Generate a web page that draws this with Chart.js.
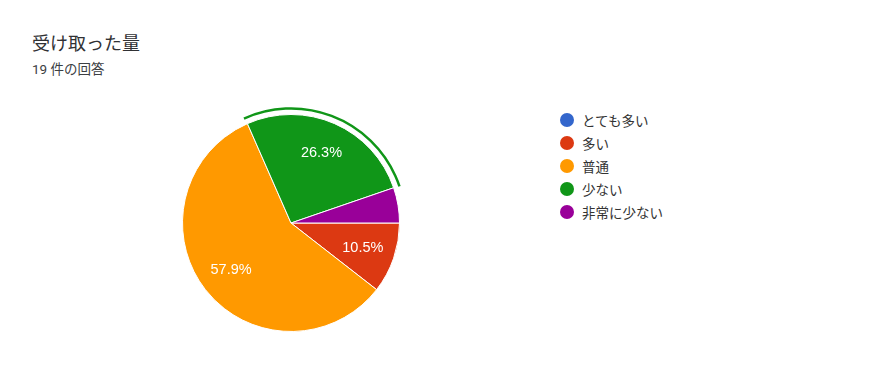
<!DOCTYPE html>
<html>
<head>
<meta charset="utf-8">
<script src="https://cdn.jsdelivr.net/npm/chart.js@4"></script>
<style>
body{margin:0;background:#fff;width:886px;height:373px;position:relative;overflow:hidden;font-family:Roboto,"Noto Sans CJK JP",sans-serif}
#title{position:absolute;left:32px;top:29px;font-size:18px;color:#303134;font-family:Roboto,"Noto Sans CJK JP"}
#sub{position:absolute;left:32px;top:58px;font-size:13.5px;color:#3c4043;font-family:Roboto,"Noto Sans CJK JP"}
#box{position:absolute;left:171px;top:103px;width:240px;height:240px}
#legend{position:absolute;left:560px;top:109px;font-size:13.5px;color:#333;font-family:Roboto,"Noto Sans CJK JP"}
.row{height:22.9px;display:flex;align-items:center}
.dot{width:14px;height:14px;border-radius:50%;margin-right:8px}
</style>
</head>
<body>
<div id="title">受け取った量</div>
<div id="sub">19 件の回答</div>
<div id="box"><canvas id="pie"></canvas></div>
<div id="legend"></div>
<script>
const labels=["とても多い","多い","普通","少ない","非常に少ない"]
const counts=[0,2,11,5,1]
const colors=["#3366cc","#dc3912","#ff9900","#109618","#990099"]
const highlighted=3

const total=counts.reduce((a,b)=>a+b,0)

// slice labels + outline ring on the selected slice
const pieExtras={
id:"pieExtras",
afterDatasetsDraw(chart){
const c=chart.ctx
const meta=chart.getDatasetMeta(0)
meta.data.forEach((arc,i)=>{
const v=counts[i]/total
if(v<0.08) return
const mid=(arc.startAngle+arc.endAngle)/2
const r=arc.outerRadius*0.7
c.save()
c.fillStyle="#fff"
c.font="14.5px Arial, 'Liberation Sans'"
c.textAlign="center"
c.textBaseline="middle"
c.fillText((v*100).toFixed(1)+"%",arc.x+Math.cos(mid)*r,arc.y+Math.sin(mid)*r)
c.restore()
})
const h=meta.data[highlighted]
c.save()
c.strokeStyle=colors[highlighted]
c.lineWidth=2.5
c.beginPath()
c.arc(h.x,h.y,h.outerRadius+6,h.startAngle-0.01,h.endAngle+0.005)
c.stroke()
c.restore()
}
}

new Chart(document.getElementById("pie"),{
type:"pie",
data:{
labels:labels,
datasets:[{
data:counts,
backgroundColor:colors,
borderColor:"#fff",
borderWidth:1
}]
},
options:{
responsive:true,
maintainAspectRatio:false,
animation:false,
rotation:90,
layout:{padding:11},
plugins:{legend:{display:false},tooltip:{enabled:false}}
},
plugins:[pieExtras]
})

const lg=document.getElementById("legend")
labels.forEach((l,i)=>{
const row=document.createElement("div")
row.className="row"
row.innerHTML='<span class="dot" style="background:'+colors[i]+'"></span>'+l
lg.appendChild(row)
})
</script>
</body>
</html>
